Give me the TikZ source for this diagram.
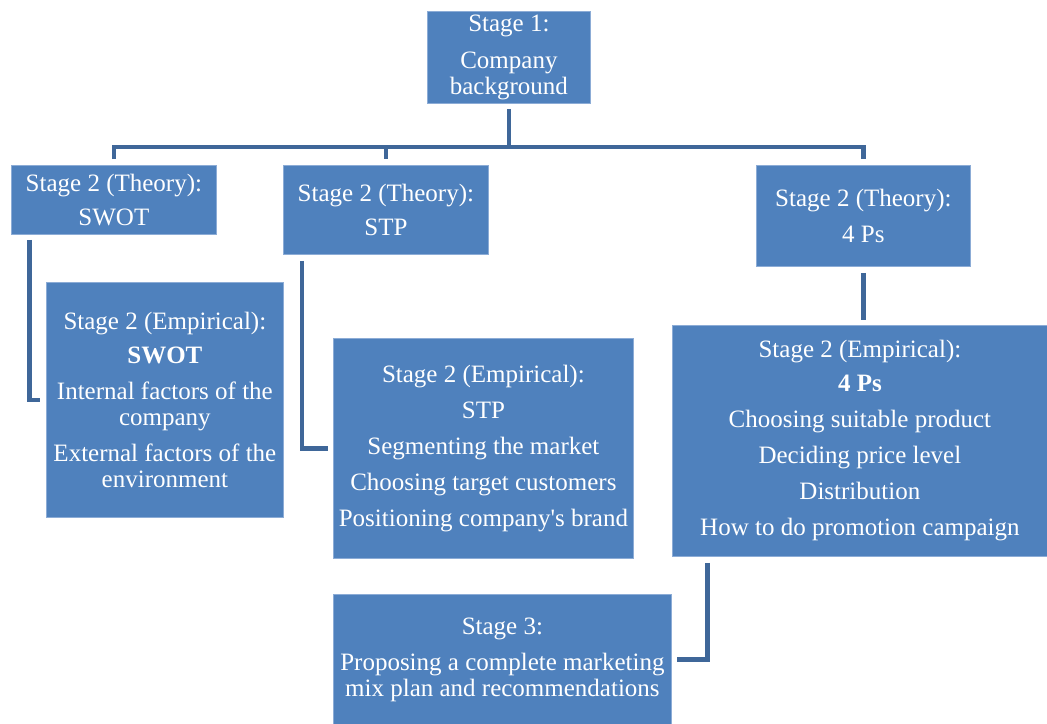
\documentclass[tikz,border=0pt]{standalone}
\usepackage{fontspec}
\setmainfont{Liberation Serif}
\definecolor{boxblue}{RGB}{79,129,189}
\definecolor{boxedge}{RGB}{140,172,214}
\definecolor{linkblue}{RGB}{63,103,153}

\begin{document}
\begin{tikzpicture}[x=1pt, y=-1pt,
    box/.style = {draw=boxedge, line width=0.8pt, fill=boxblue, text=white, anchor=north west,
                  inner sep=0pt, align=center, font=\fontsize{25}{26}\selectfont},
    link/.style = {draw=linkblue, line width=4.5pt}]
    \useasboundingbox (0,0) rectangle (1047,723);
    % top
    \node[box, minimum width=163, minimum height=92] (s1) at (427,11) {Stage 1:\\[11pt]Company\\background};
    % theory row
    \node[box, minimum width=205, minimum height=69] (thswot) at (11,165) {Stage 2 (Theory):\\[8pt]SWOT};
    \node[box, minimum width=205, minimum height=89] (thstp) at (283,165) {Stage 2 (Theory):\\[8pt]STP};
    \node[box, minimum width=214, minimum height=101] (th4ps) at (756,165) {Stage 2 (Theory):\\[10pt]4 Ps};
    % empirical row
    \node[box, minimum width=237, minimum height=235] (empswot) at (46,282)
        {Stage 2 (Empirical):\\[8pt]\textbf{SWOT}\\[10pt]Internal factors of the\\company\\[10pt]External factors of the\\environment};
    \node[box, minimum width=300, minimum height=220] (empstp) at (333,338)
        {Stage 2 (Empirical):\\[10pt]STP\\[10pt]Segmenting the market\\[10pt]Choosing target customers\\[10pt]Positioning company\textquotesingle s brand};
    \node[box, minimum width=375, minimum height=231] (emp4ps) at (672,325)
        {Stage 2 (Empirical):\\[8pt]\textbf{4 Ps}\\[10pt]Choosing suitable product\\[10pt]Deciding price level\\[10pt]Distribution\\[10pt]How to do promotion campaign};
    % last stage
    \node[box, minimum width=338, minimum height=130] (s3) at (333,594)
        {Stage 3:\\[10pt]Proposing a complete marketing\\mix plan and recommendations};
    % connectors
    \coordinate (bus) at (0,147);
    \draw[link] ([yshift=-5pt]s1.south) -- (s1.south |- bus);
    \draw[link] ([yshift=6pt]thswot.north) |- (bus -| th4ps.north) -- ([yshift=6pt]th4ps.north);
    \draw[link] (bus -| thstp.north) -- ([yshift=6pt]thstp.north);
    \draw[link] ([xshift=18.5pt,yshift=-5pt]thswot.south west) |- ([xshift=-6pt]empswot.west);
    \draw[link] ([xshift=19pt,yshift=-6pt]thstp.south west) |- ([xshift=-5pt]empstp.west);
    \draw[link] ([yshift=-6pt]th4ps.south) -- ([yshift=5pt]th4ps.south |- emp4ps.north);
    \draw[link] ([xshift=35.5pt,yshift=-6pt]emp4ps.south west) |- ([xshift=5pt]s3.east);
\end{tikzpicture}
\end{document}
